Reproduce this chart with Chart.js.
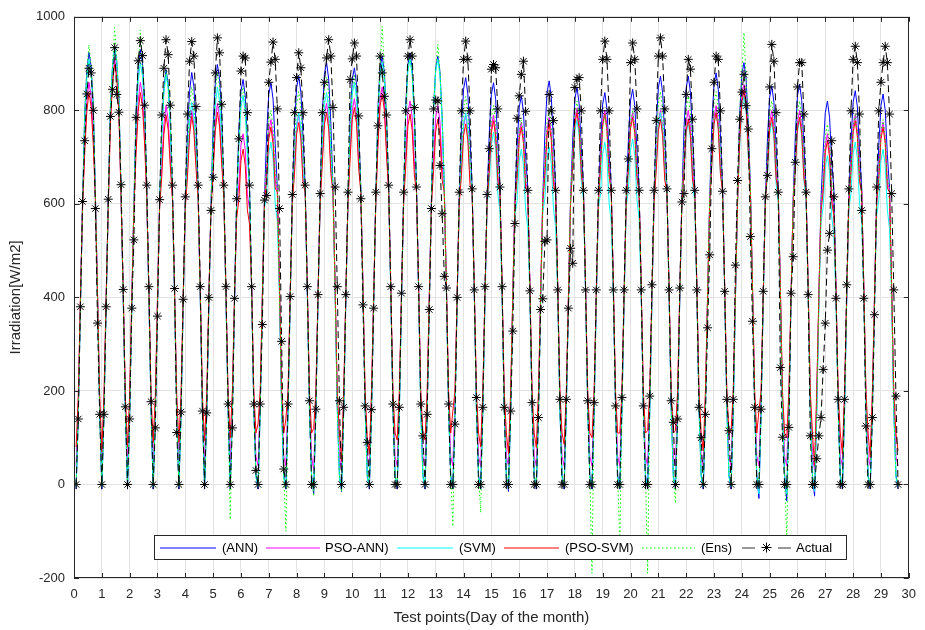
<!DOCTYPE html>
<html>
<head>
<meta charset="utf-8">
<script src="https://cdn.jsdelivr.net/npm/chart.js@4.4.1/dist/chart.umd.min.js"></script>
<style>
  html, body { margin: 0; padding: 0; background: #ffffff; }
  #c { display: block; }
</style>
</head>
<body>
<canvas id="c" width="925" height="630"></canvas>
<script>
// ---- Data (one inner array per day; days 0-5 have 12 test points, the rest 13) ----
const seriesNames = ['(ANN)', 'PSO-ANN)', '(SVM)', '(PSO-SVM)', '(Ens)', 'Actual'];
const xTicks = [0,1,2,3,4,5,6,7,8,9,10,11,12,13,14,15,16,17,18,19,20,21,22,23,24,25,26,27,28,29,30];
const yTicks = [-200, 0, 200, 400, 600, 800, 1000];

const actualDays = [
  [0,140,380,605,735,835,890,880,800,590,345,150],
  [0,150,380,610,787,845,934,834,796,641,417,166],
  [0,140,377,523,785,906,949,917,811,640,423,177],
  [0,121,360,609,790,890,951,919,811,640,419,111],
  [0,155,396,615,792,905,947,916,808,640,423,157],
  [0,153,400,586,657,880,955,923,813,640,423,172],
  [0,121,398,611,739,884,916,912,795,640,423,172,30],
  [0,172,342,608,618,860,903,946,909,803,590,306,33],
  [0,172,402,620,795,870,923,891,795,640,423,179,0],
  [0,161,406,622,795,860,912,951,916,806,636,423,179],
  [0,165,406,625,866,910,944,916,788,611,384,168,90],
  [0,160,377,625,767,916,880,830,790,640,423,172,0],
  [0,165,409,625,799,916,951,916,806,636,423,172,104],
  [0,150,374,590,803,822,820,682,579,445,420,172,0],
  [0,129,400,625,799,909,948,909,799,632,416,186,0],
  [0,165,423,620,718,888,898,891,803,636,423,165,0],
  [0,157,328,558,783,831,877,905,798,629,414,175,0],
  [0,143,374,397,520,523,834,799,778,629,416,182,0],
  [0,182,377,505,473,849,866,870,799,629,416,179,0],
  [0,175,416,629,799,909,948,909,799,629,416,168,0],
  [0,186,416,629,696,902,944,909,803,629,416,168,0],
  [0,189,427,629,778,916,955,916,803,632,416,179,133],
  [0,140,420,604,622,834,909,888,781,629,416,165,100],
  [0,150,335,491,718,860,916,909,799,627,413,182,115],
  [0,182,469,650,781,839,877,810,760,530,349,165,0],
  [0,161,413,615,661,850,941,905,795,625,250,101,0],
  [0,122,409,487,689,850,902,902,792,625,406,104,0],
  [0,55,104,143,246,345,501,537,735,615,398,182,0],
  [0,182,427,632,799,909,937,902,792,586,398,125,0],
  [0,143,363,636,799,860,902,937,902,792,622,416,189],
  [0]
];

const annDays = [
  [-10,150,385,600,794,884,924,894,814,620,400,160],
  [-10,150,385,600,804,894,934,904,824,620,400,160],
  [-10,150,385,600,800,890,930,900,820,620,400,160],
  [-10,150,385,600,757,847,887,857,777,620,400,160],
  [-10,150,385,600,751,841,881,851,771,620,400,160],
  [-10,150,385,600,768,858,898,868,788,620,400,160],
  [-10,160,395,610,756,841,866,831,736,635,415,165,20],
  [-10,160,395,610,749,834,859,824,729,635,415,165,20],
  [-10,160,395,610,763,848,873,838,743,635,415,165,20],
  [-20,160,395,610,792,877,902,867,772,635,415,165,20],
  [-15,160,395,610,781,866,891,856,761,635,415,165,20],
  [-10,160,395,610,806,891,916,881,786,635,415,165,20],
  [-10,160,395,610,813,898,923,888,793,635,415,165,20],
  [-10,160,395,610,806,891,916,881,786,635,415,165,20],
  [-10,160,395,610,760,845,870,835,740,635,415,165,20],
  [-10,160,395,610,749,834,859,824,729,635,415,165,20],
  [-15,160,395,610,721,806,831,796,701,635,415,165,20],
  [-10,160,395,610,753,838,863,828,733,635,415,165,20],
  [-10,160,395,610,739,824,849,814,719,635,415,165,20],
  [-10,160,395,610,728,813,838,803,708,635,415,165,20],
  [-10,160,395,610,735,820,845,810,715,635,415,165,20],
  [-10,160,395,610,763,848,873,838,743,635,415,165,20],
  [-10,160,395,610,763,848,873,838,743,635,415,165,20],
  [-10,160,395,610,770,855,880,845,750,635,415,165,20],
  [-10,160,395,610,792,877,902,867,772,635,415,165,20],
  [-30,160,395,610,742,827,852,817,722,635,415,165,20],
  [-35,160,395,610,746,831,856,821,726,635,415,165,20],
  [-25,160,395,610,710,795,820,785,690,635,415,165,20],
  [-10,160,395,610,732,817,842,807,712,635,415,165,20],
  [-10,160,395,610,725,810,835,800,705,635,415,165,20],
  [-10]
];

const psoAnnDays = [
  [40,170,390,600,730,820,860,830,750,615,405,175],
  [40,170,390,600,780,870,910,880,800,615,405,175],
  [40,170,390,600,730,820,860,830,750,615,405,175],
  [40,170,390,600,680,770,810,780,700,615,405,175],
  [40,170,390,600,670,760,800,770,690,615,405,175],
  [40,170,390,600,685,775,815,785,705,615,405,175],
  [40,185,400,600,640,725,750,715,620,590,420,185,60],
  [40,185,400,610,670,755,780,745,650,630,420,185,60],
  [40,185,400,610,680,765,790,755,660,630,420,185,60],
  [30,185,400,610,705,790,815,780,685,630,420,185,60],
  [30,185,400,610,715,800,825,790,695,630,420,185,60],
  [40,185,400,610,740,825,850,815,720,630,420,185,60],
  [40,185,400,610,710,795,820,785,690,630,420,185,60],
  [40,185,400,610,700,785,810,775,680,630,420,185,60],
  [40,185,400,610,680,765,790,755,660,630,420,185,60],
  [40,185,400,610,680,765,790,755,660,630,420,185,60],
  [40,185,400,610,665,750,775,740,645,630,420,185,60],
  [40,185,400,610,675,760,785,750,655,630,420,185,60],
  [40,185,400,610,695,780,805,770,675,630,420,185,60],
  [40,185,400,610,690,775,800,765,670,630,420,185,60],
  [40,185,400,610,685,770,795,760,665,630,420,185,60],
  [40,185,400,610,690,775,800,765,670,630,420,185,60],
  [40,185,400,610,690,775,800,765,670,630,420,185,60],
  [40,185,400,610,700,785,810,775,680,630,420,185,60],
  [40,185,400,610,745,830,855,820,725,630,420,185,60],
  [40,185,400,610,690,775,800,765,670,630,420,185,60],
  [40,185,400,610,690,775,800,765,670,630,420,185,60],
  [30,185,400,600,640,725,750,715,620,590,420,185,60],
  [40,185,400,610,680,765,790,755,660,630,420,185,60],
  [40,185,400,610,665,750,775,740,645,630,420,185,60],
  [40]
];

const svmDays = [
  [-5,145,380,595,779,869,909,879,799,615,395,155],
  [-5,145,380,595,804,894,934,904,824,615,395,155],
  [-5,145,380,595,772,862,902,872,792,615,395,155],
  [-5,145,380,595,747,837,877,847,767,615,395,155],
  [-5,145,380,595,687,777,817,787,707,615,395,155],
  [-5,145,380,595,720,810,850,820,740,615,395,155],
  [-5,150,390,605,722,807,832,797,702,630,410,160,15],
  [-5,150,390,590,622,707,732,697,602,562,400,160,15],
  [-5,150,390,605,685,770,795,760,665,630,410,160,15],
  [-10,150,390,605,728,813,838,803,708,630,410,160,15],
  [-10,150,390,605,750,835,860,825,730,630,410,160,15],
  [-5,150,390,605,792,877,902,867,772,630,410,160,15],
  [-5,150,390,605,799,884,909,874,779,630,410,160,15],
  [-5,150,390,605,799,884,909,874,779,630,410,160,15],
  [-5,150,390,605,685,770,795,760,665,630,410,160,15],
  [-5,150,390,595,643,728,753,718,623,583,400,160,15],
  [-10,150,390,575,607,692,717,682,587,547,400,160,15],
  [-5,150,390,580,611,696,721,686,591,551,400,160,15],
  [-5,150,390,605,670,755,780,745,650,610,410,160,15],
  [-5,150,390,590,622,707,732,697,602,562,400,160,15],
  [-5,150,390,595,629,714,739,704,609,569,400,160,15],
  [-5,150,390,605,685,770,795,760,665,630,410,160,15],
  [-5,150,390,605,664,749,774,739,644,604,405,160,15],
  [-5,150,390,605,685,770,795,760,665,630,410,160,15],
  [-5,150,390,605,720,805,830,795,700,630,410,160,15],
  [-20,150,390,605,664,749,774,739,644,604,405,160,15],
  [-20,150,390,605,670,755,780,745,650,610,410,160,15],
  [-15,150,380,560,593,678,703,668,573,533,390,160,15],
  [-5,150,390,590,622,707,732,697,602,562,400,160,15],
  [-5,150,390,575,607,692,717,682,587,547,400,160,15],
  [-5]
];

const psoSvmDays = [
  [80,190,400,590,708,798,838,808,728,610,410,190],
  [70,190,400,590,768,858,898,868,788,610,410,190],
  [80,190,400,590,708,798,838,808,728,610,410,190],
  [90,190,400,590,659,749,789,759,679,610,410,190],
  [90,190,400,590,657,747,787,757,677,610,410,190],
  [94,190,400,590,666,756,796,766,686,610,410,190],
  [100,200,405,570,607,692,717,682,587,557,420,200,110],
  [130,200,405,600,654,739,764,729,634,625,425,200,110],
  [140,200,405,600,664,749,774,739,644,625,425,200,110],
  [120,200,405,600,685,770,795,760,665,625,425,200,110],
  [50,200,405,600,696,781,806,771,676,625,425,200,100],
  [65,200,405,600,725,810,835,800,705,625,425,200,110],
  [95,200,405,600,682,767,792,757,662,625,425,200,110],
  [95,200,405,600,671,756,781,746,651,625,425,200,110],
  [157,200,405,600,661,746,771,736,641,625,425,200,110],
  [80,200,405,600,668,753,778,743,648,625,425,200,110],
  [65,200,405,600,654,739,764,729,634,625,425,200,110],
  [79,200,405,600,661,746,771,736,641,625,425,200,110],
  [86,200,405,600,685,770,795,760,665,625,425,200,110],
  [100,200,405,600,682,767,792,757,662,625,425,200,110],
  [110,200,405,600,675,760,785,750,655,625,425,200,110],
  [115,200,405,600,671,756,781,746,651,625,425,200,110],
  [115,200,405,600,671,756,781,746,651,625,425,200,110],
  [72,200,405,600,685,770,795,760,665,625,425,200,110],
  [115,200,405,600,732,817,842,807,712,625,425,200,110],
  [157,200,405,600,675,760,785,750,655,625,425,200,110],
  [100,200,405,600,675,760,785,750,655,625,425,200,110],
  [40,200,405,585,625,710,735,700,605,575,420,200,110],
  [65,200,405,600,668,753,778,743,648,625,425,200,110],
  [58,200,405,600,654,739,764,729,634,625,425,200,110],
  [72]
];

const ensDays = [
  [0,150,385,600,794,884,940,894,814,620,400,160],
  [0,150,385,600,804,894,977,904,824,620,400,160],
  [0,150,385,600,800,890,972,900,820,620,400,160],
  [0,150,385,600,755,845,885,855,775,620,400,160],
  [0,150,385,600,720,810,850,820,740,620,400,160],
  [0,150,385,600,750,840,880,850,770,620,400,160],
  [-75,165,400,612,740,825,850,815,720,635,415,168,20],
  [0,165,400,612,690,775,800,765,670,635,415,168,20],
  [-100,165,400,612,730,815,840,805,710,635,415,168,20],
  [-25,165,400,612,760,845,870,835,740,635,415,168,20],
  [-15,165,400,612,765,850,875,840,745,635,415,168,20],
  [0,165,400,612,806,891,980,881,786,635,415,168,20],
  [0,165,400,612,805,890,915,880,785,635,415,168,20],
  [0,165,400,612,806,891,941,881,786,635,415,168,20],
  [-90,165,400,612,720,805,830,795,700,635,415,168,20],
  [-60,165,400,612,700,785,810,775,680,635,415,168,20],
  [0,165,400,612,670,755,780,745,650,635,415,168,20],
  [0,165,400,612,690,775,800,765,670,635,415,168,20],
  [0,165,400,612,710,795,820,785,690,635,415,168,20],
  [-190,165,400,612,680,765,790,755,660,635,415,168,20],
  [-130,165,400,612,690,775,800,765,670,635,415,168,20],
  [-190,165,400,612,730,815,840,805,710,635,415,168,20],
  [-40,165,400,612,720,805,830,795,700,635,415,168,20],
  [0,165,400,612,730,815,840,805,710,635,415,168,20],
  [0,165,400,612,792,877,966,867,772,635,415,168,20],
  [0,165,400,612,710,795,820,785,690,635,415,168,20],
  [-120,165,400,612,710,795,820,785,690,635,415,168,20],
  [0,165,400,600,660,745,770,735,640,620,415,168,20],
  [0,165,400,612,680,765,790,755,660,635,415,168,20],
  [0,165,400,612,670,755,780,745,650,635,415,168,20],
  [0]
];

// test points are 13 per x-unit (index -> "day" position)
const pointsPerUnit = 13;
function toPoints(days) {
  return days.flat().map((v, i) => ({ x: (i + 1) / pointsPerUnit, y: v }));
}

const FONT = "'Liberation Sans', Arial, Helvetica, sans-serif";
const TXT = '#262626';
Chart.defaults.font.family = FONT;

const colors = ['#0000ff', '#ff00ff', '#00ffff', '#ff0000', '#00ff00', '#000000'];

function drawStar(ctx, x, y, r) {
  ctx.beginPath();
  ctx.moveTo(x - r, y); ctx.lineTo(x + r, y);
  ctx.moveTo(x, y - r); ctx.lineTo(x, y + r);
  const d = r * Math.SQRT1_2;
  ctx.moveTo(x - d, y - d); ctx.lineTo(x + d, y + d);
  ctx.moveTo(x - d, y + d); ctx.lineTo(x + d, y - d);
  ctx.stroke();
}

const overlay = {
  id: 'overlay',
  afterDatasetsDraw(chart) {
    const { ctx, chartArea: a, scales: { x, y } } = chart;
    ctx.save();
    // axes box
    ctx.strokeStyle = TXT;
    ctx.lineWidth = 1;
    ctx.strokeRect(Math.round(a.left) + 0.5, Math.round(a.top) + 0.5,
      Math.round(a.right - a.left) - 1, Math.round(a.bottom - a.top) - 1);
    // inward ticks
    ctx.beginPath();
    xTicks.forEach(v => {
      const px = Math.round(x.getPixelForValue(v)) + 0.5;
      ctx.moveTo(px, a.bottom); ctx.lineTo(px, a.bottom - 5);
      ctx.moveTo(px, a.top); ctx.lineTo(px, a.top + 5);
    });
    yTicks.forEach(v => {
      const py = Math.round(y.getPixelForValue(v)) + 0.5;
      ctx.moveTo(a.left, py); ctx.lineTo(a.left + 5, py);
      ctx.moveTo(a.right, py); ctx.lineTo(a.right - 5, py);
    });
    ctx.stroke();

    // legend
    const bx = 154.5, by = 535.5, bw = 692, bh = 24;
    ctx.fillStyle = '#ffffff';
    ctx.fillRect(bx, by, bw, bh);
    ctx.strokeStyle = TXT;
    ctx.strokeRect(bx, by, bw, bh);
    const cy = by + bh / 2;
    const items = [
      { l0: 160, l1: 216, t: 222 },
      { l0: 266, l1: 320, t: 325 },
      { l0: 397, l1: 453, t: 459 },
      { l0: 504, l1: 559, t: 565 },
      { l0: 642, l1: 695, t: 701 },
      { l0: 742, l1: 791, t: 796 }
    ];
    ctx.font = '13px ' + FONT;
    ctx.textBaseline = 'middle';
    ctx.textAlign = 'left';
    items.forEach((it, k) => {
      ctx.strokeStyle = colors[k];
      ctx.lineWidth = 1;
      if (k === 4) ctx.setLineDash([1.5, 2.5]);
      else ctx.setLineDash([]);
      ctx.beginPath();
      if (k === 5) {
        ctx.moveTo(it.l0, cy + 0.5); ctx.lineTo(it.l0 + 13, cy + 0.5);
        ctx.moveTo(it.l1 - 13, cy + 0.5); ctx.lineTo(it.l1, cy + 0.5);
        ctx.strokeStyle = '#333333';
        ctx.stroke();
        ctx.strokeStyle = '#000000';
        drawStar(ctx, (it.l0 + it.l1) / 2, cy, 5);
      } else {
        ctx.moveTo(it.l0, cy + 0.5); ctx.lineTo(it.l1, cy + 0.5);
        ctx.stroke();
      }
      ctx.setLineDash([]);
      ctx.fillStyle = '#000000';
      ctx.fillText(seriesNames[k], it.t, cy + 1);
    });
    ctx.restore();
  },
  afterDraw(chart) {
    const { ctx, chartArea: a } = chart;
    ctx.save();
    ctx.fillStyle = TXT;
    ctx.font = '15px ' + FONT;
    ctx.textAlign = 'center';
    ctx.textBaseline = 'middle';
    ctx.fillText('Test points(Day of the month)', (a.left + a.right) / 2, 618);
    ctx.translate(16, (a.top + a.bottom) / 2);
    ctx.rotate(-Math.PI / 2);
    ctx.fillText('Irradiation[W/m2]', 0, 0);
    ctx.restore();
  }
};

const datasets = [
  { label: seriesNames[0], data: toPoints(annDays), borderColor: colors[0], order: 5 },
  { label: seriesNames[1], data: toPoints(psoAnnDays), borderColor: colors[1], order: 4 },
  { label: seriesNames[2], data: toPoints(svmDays), borderColor: colors[2], order: 3 },
  { label: seriesNames[3], data: toPoints(psoSvmDays), borderColor: colors[3], order: 2 },
  { label: seriesNames[4], data: toPoints(ensDays), borderColor: colors[4], borderDash: [1.5, 2.5], order: 1 },
  { label: seriesNames[5], data: toPoints(actualDays), borderColor: '#000000', borderDash: [7, 4], order: 0,
    pointStyle: 'star', pointRadius: 4.5, pointBorderColor: '#000000', pointBorderWidth: 1, pointBackgroundColor: '#000000' }
].map(d => Object.assign({ borderWidth: 1, pointRadius: 0, tension: 0, fill: false }, d));

new Chart(document.getElementById('c'), {
  type: 'line',
  data: { datasets },
  options: {
    responsive: false,
    animation: false,
    devicePixelRatio: 1,
    layout: { padding: { left: 0, right: 13, top: 13, bottom: 0 } },
    plugins: { legend: { display: false }, tooltip: { enabled: false } },
    scales: {
      x: {
        type: 'linear', min: 0, max: 30,
        afterBuildTicks(s) { s.ticks = xTicks.map(v => ({ value: v })); },
        ticks: { padding: 9, maxRotation: 0, autoSkip: false, color: TXT, font: { size: 13 },
                 callback: v => String(v) },
        grid: { color: '#e3e3e3', drawTicks: false, lineWidth: 1 },
        border: { display: false },
        afterFit(s) { s.height = 52; }
      },
      y: {
        type: 'linear', min: -200, max: 1000,
        afterBuildTicks(s) { s.ticks = yTicks.map(v => ({ value: v })); },
        ticks: { padding: 9, color: TXT, font: { size: 13 }, callback: v => String(v) },
        grid: { color: '#e3e3e3', drawTicks: false, lineWidth: 1 },
        border: { display: false },
        afterFit(s) { s.width = 74; }
      }
    }
  },
  plugins: [overlay]
});
</script>
</body>
</html>
